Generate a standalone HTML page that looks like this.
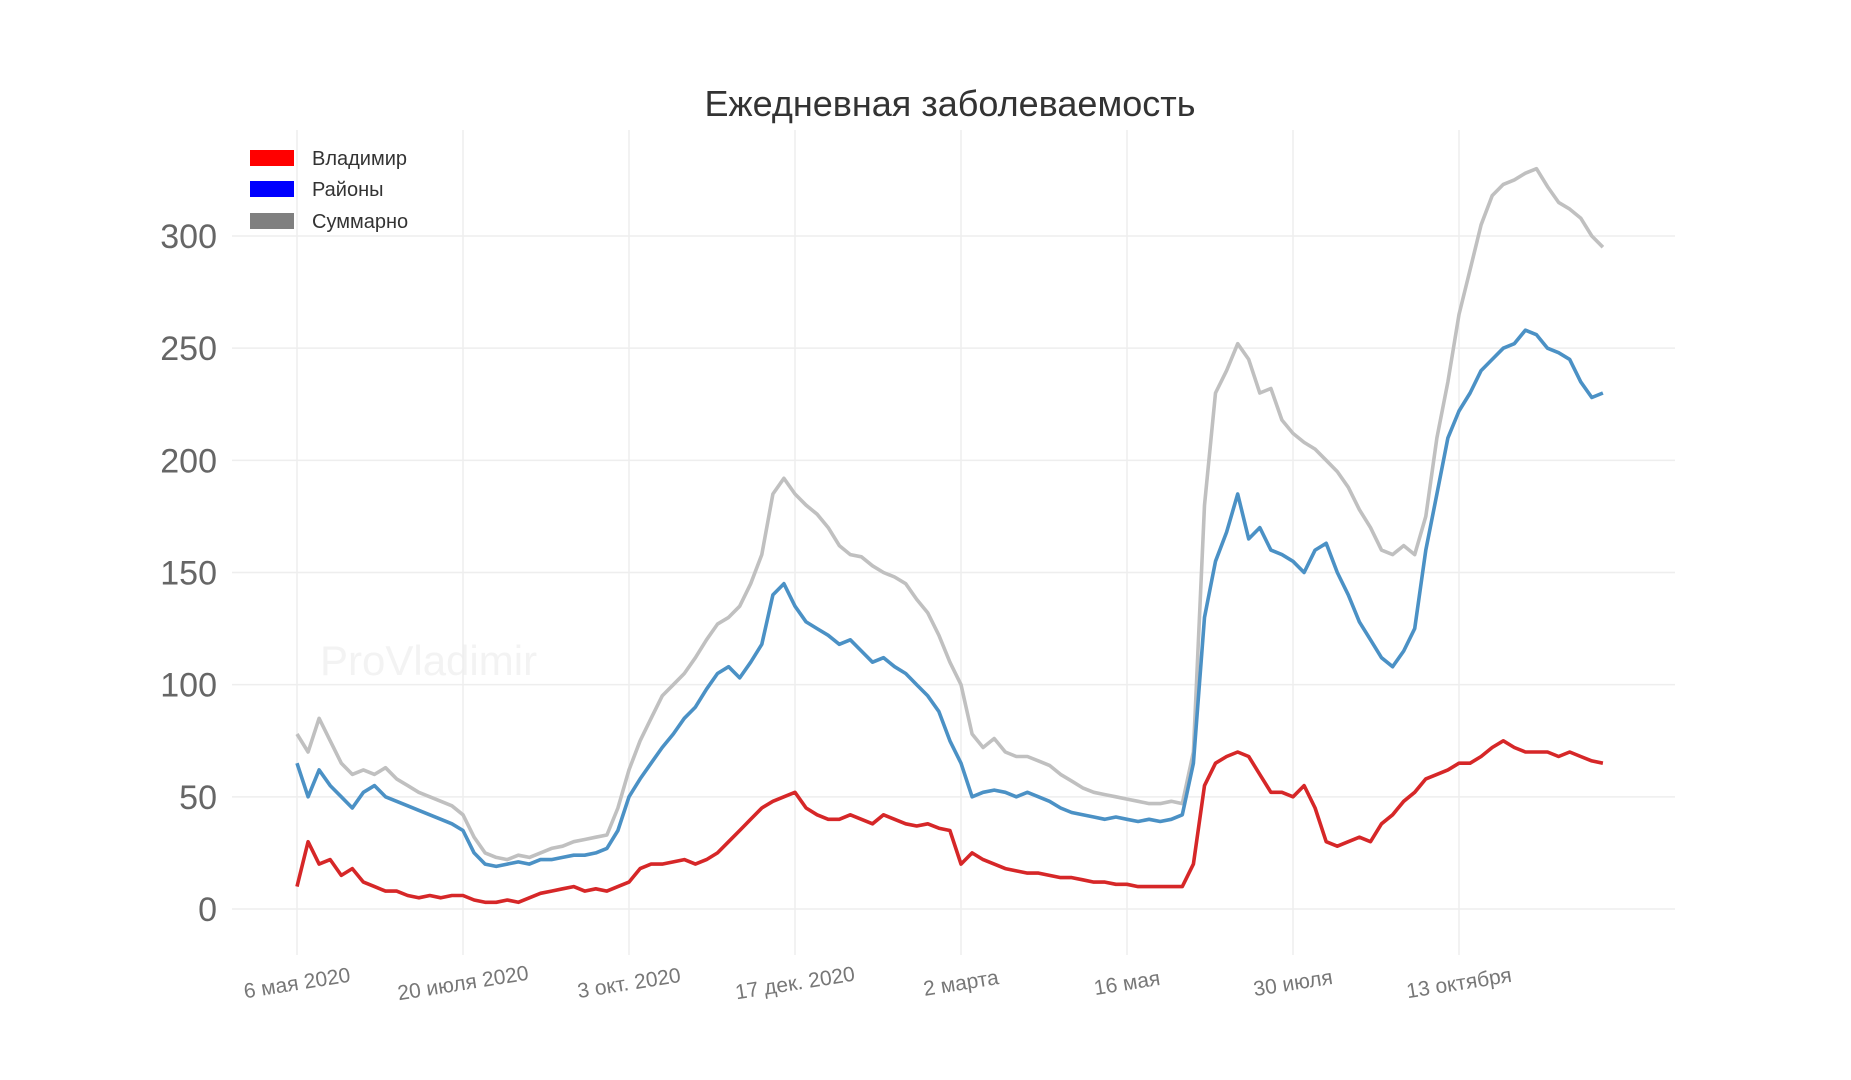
<!DOCTYPE html>
<html><head><meta charset="utf-8"><style>
body{margin:0;background:#fff;}
svg{display:block;font-family:"Liberation Sans","DejaVu Sans",sans-serif;}
</style></head><body>
<svg id="chart" width="1851" height="1080" viewBox="0 0 1851 1080">
<rect width="1851" height="1080" fill="#fff"/>
<text x="950" y="116" font-size="36" fill="#333" text-anchor="middle">Ежедневная заболеваемость</text>
<text x="320" y="675" font-size="42" fill="#f3f3f3">ProVladimir</text>
<g id="grid"></g>
<g id="yaxis"></g>
<g id="xaxis"></g>
<g id="series"></g>
<g>
<rect x="250" y="150" width="44" height="16" fill="#ff0000"/>
<text x="312" y="165" font-size="20" fill="#333">Владимир</text>
<rect x="250" y="181" width="44" height="16" fill="#0000ff"/>
<text x="312" y="196" font-size="20" fill="#333">Районы</text>
<rect x="250" y="213" width="44" height="16" fill="#808080"/>
<text x="312" y="228" font-size="20" fill="#333">Суммарно</text>
</g>
</svg>
<script>
const dayStep = 5;
const xTickDays = [0,75,150,225,300,375,450,525];
const xTickLabels = ["6 мая 2020","20 июля 2020","3 окт. 2020","17 дек. 2020","2 марта","16 мая","30 июля","13 октября"];
const yTicks = [0,50,100,150,200,250,300];
const totalValues = [78,70,85,75,65,60,62,60,63,58,55,52,50,48,46,42,32,25,23,22,24,23,25,27,28,30,31,32,33,45,62,75,85,95,100,105,112,120,127,130,135,145,158,185,192,185,180,176,170,162,158,157,153,150,148,145,138,132,122,110,100,78,72,76,70,68,68,66,64,60,57,54,52,51,50,49,48,47,47,48,47,70,180,230,240,252,245,230,232,218,212,208,205,200,195,188,178,170,160,158,162,158,175,210,235,265,285,305,318,323,325,328,330,322,315,312,308,300,295];
const districtValues = [65,50,62,55,50,45,52,55,50,48,46,44,42,40,38,35,25,20,19,20,21,20,22,22,23,24,24,25,27,35,50,58,65,72,78,85,90,98,105,108,103,110,118,140,145,135,128,125,122,118,120,115,110,112,108,105,100,95,88,75,65,50,52,53,52,50,52,50,48,45,43,42,41,40,41,40,39,40,39,40,42,65,130,155,168,185,165,170,160,158,155,150,160,163,150,140,128,120,112,108,115,125,160,185,210,222,230,240,245,250,252,258,256,250,248,245,235,228,230];
const vladimirValues = [10,30,20,22,15,18,12,10,8,8,6,5,6,5,6,6,4,3,3,4,3,5,7,8,9,10,8,9,8,10,12,18,20,20,21,22,20,22,25,30,35,40,45,48,50,52,45,42,40,40,42,40,38,42,40,38,37,38,36,35,20,25,22,20,18,17,16,16,15,14,14,13,12,12,11,11,10,10,10,10,10,20,55,65,68,70,68,60,52,52,50,55,45,30,28,30,32,30,38,42,48,52,58,60,62,65,65,68,72,75,72,70,70,70,68,70,68,66,65];

const NS="http://www.w3.org/2000/svg";
const x0=297, pxPerDay=166/75, yZero=909, pxPerUnit=(909-236)/300;
const X=d=>x0+d*pxPerDay, Y=v=>yZero-v*pxPerUnit;
function mk(tag,attrs,parent){const e=document.createElementNS(NS,tag);for(const k in attrs)e.setAttribute(k,attrs[k]);parent.appendChild(e);return e;}
const grid=document.getElementById('grid'), ya=document.getElementById('yaxis'), xa=document.getElementById('xaxis'), ser=document.getElementById('series');
yTicks.forEach(v=>{
  const l=mk('line',{x1:232,x2:1675,y1:Y(v),y2:Y(v),stroke:'#eeeeee','stroke-width':1.5},grid);
  
  
  const t=mk('text',{x:217,y:Y(v)+12,'font-size':34,fill:'#666','text-anchor':'end'},ya);
  
  
  t.textContent=v;
});
xTickDays.forEach((d,i)=>{
  const l=mk('line',{x1:X(d),x2:X(d),y1:130,y2:955,stroke:'#eeeeee','stroke-width':1.5},grid);
  
  
  const t=mk('text',{x:X(d),y:990,'font-size':21,fill:'#777','text-anchor':'middle',transform:`rotate(-9 ${X(d)} 983)`},xa);
  
  
  t.textContent=xTickLabels[i];
});
function line(vals,color,name){
  const pts=vals.map((v,i)=>X(i*dayStep).toFixed(1)+','+Y(v).toFixed(1)).join(' ');
  const p=mk('polyline',{points:pts,fill:'none',stroke:color,'stroke-width':3.6,'stroke-linejoin':'round'},ser);
  
  
}
line(totalValues,'#c0c0c0','line-total');
line(districtValues,'#4b91c5','line-districts');
line(vladimirValues,'#d62728','line-vladimir');
</script>
</body></html>
